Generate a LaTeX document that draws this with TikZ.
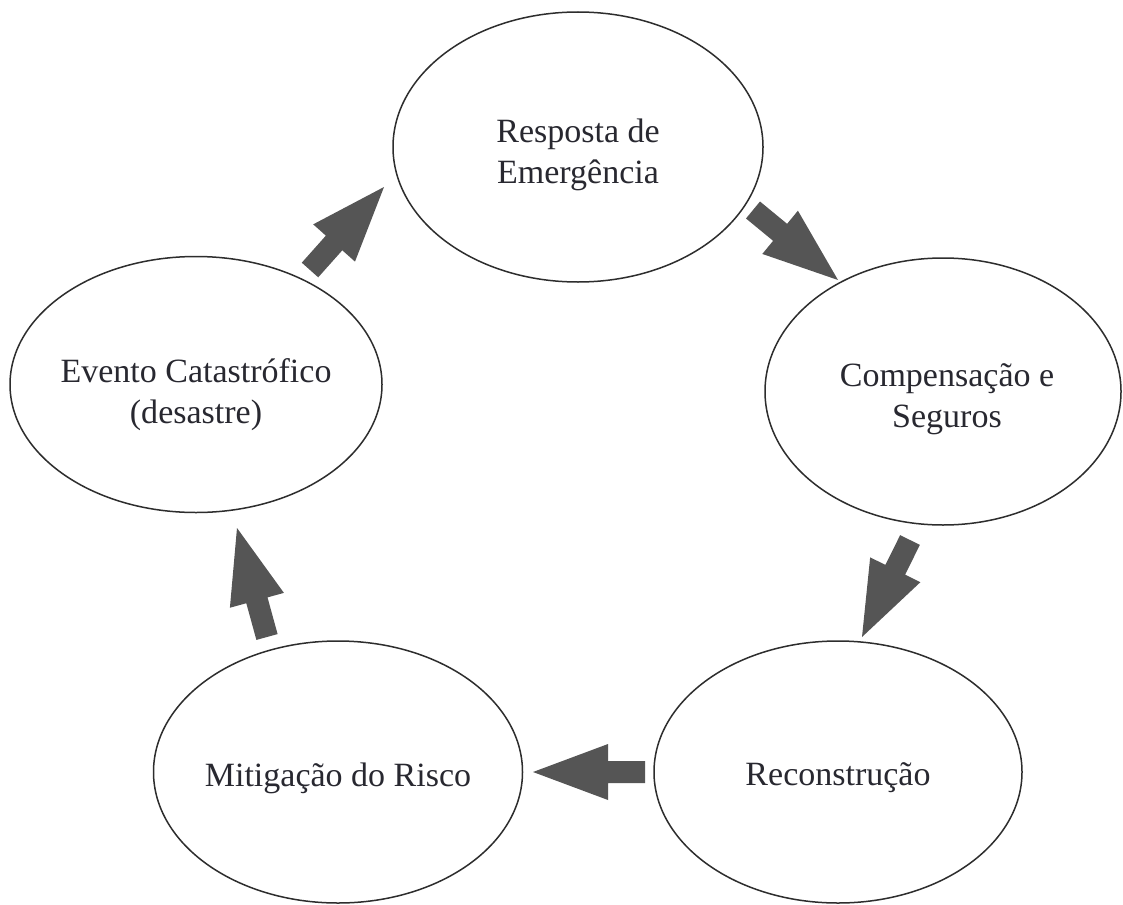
\documentclass[tikz,border=0pt]{standalone}
\usepackage{fontspec}
\setmainfont{Liberation Serif}
\usetikzlibrary{shapes.geometric,calc}
\definecolor{arrowgray}{RGB}{85,85,85}
\definecolor{inkgray}{RGB}{40,40,48}
\definecolor{rimgray}{RGB}{45,45,45}
\newcommand{\blockarrow}[2]{%
  \coordinate (#1base) at ($(#2)!37.5pt!(#1)$);
  \fill[bigarrow]
    ($(#1)!5.5pt!90:(#2)$) -- ($(#1base)!5.5pt!90:(#2)$) --
    ($(#1base)!14pt!90:(#2)$) -- (#2) --
    ($(#1base)!14pt!-90:(#2)$) -- ($(#1base)!5.5pt!-90:(#2)$) --
    ($(#1)!5.5pt!-90:(#2)$) -- cycle;
}
\tikzset{
  stage/.style={ellipse, draw=rimgray, line width=0.75pt, fill=white,
    inner sep=0pt},
  stagetext/.style={inner sep=0pt, align=center, text=inkgray,
    font=\fontsize{17}{20.5}\selectfont},
  bigarrow/.style={fill=arrowgray, draw=none}
}
\begin{document}
\begin{tikzpicture}[x=0.5pt, y=-0.5pt]
\path[use as bounding box, fill=white] (0,0) rectangle (1123,904);

\node[stage, minimum width=185pt, minimum height=135pt] (resp) at (578,147) {};
\node[stage, minimum width=178pt, minimum height=133.5pt] (comp) at (943,391.5) {};
\node[stage, minimum width=184pt, minimum height=131pt] (recon) at (838,772) {};
\node[stage, minimum width=184.5pt, minimum height=131pt] (mitig) at (338,772) {};
\node[stage, minimum width=186pt, minimum height=128pt] (evento) at (196,384.5) {};

\node[stagetext] (resptext) at ($(resp)+(0,8)$) {Resposta de\\Emergência};
\node[stagetext] (comptext) at ($(comp)+(4,8)$) {Compensação e\\Seguros};
\node[stagetext] (recontext) at ($(recon)+(0,6)$) {Reconstrução};
\node[stagetext] (mitigtext) at ($(mitig)+(0,6)$) {Mitigação do Risco};
\node[stagetext] (eventotext) at ($(evento)+(0,10)$) {Evento Catastrófico\\(desastre)};

% arrow end points (just off the ellipse rims)
\coordinate (evtail) at (310,270);  \coordinate (resphead) at (384,187);
\coordinate (resptail) at (753,210); \coordinate (comphead) at (838,280);
\coordinate (comptail) at (910,540); \coordinate (reconhead) at (862,637);
\coordinate (recontail) at (645,772); \coordinate (mitighead) at (533,772);
\coordinate (mitigtail) at (267,637); \coordinate (evhead) at (237,528);

\blockarrow{evtail}{resphead}
\blockarrow{resptail}{comphead}
\blockarrow{comptail}{reconhead}
\blockarrow{recontail}{mitighead}
\blockarrow{mitigtail}{evhead}
\end{tikzpicture}
\end{document}
